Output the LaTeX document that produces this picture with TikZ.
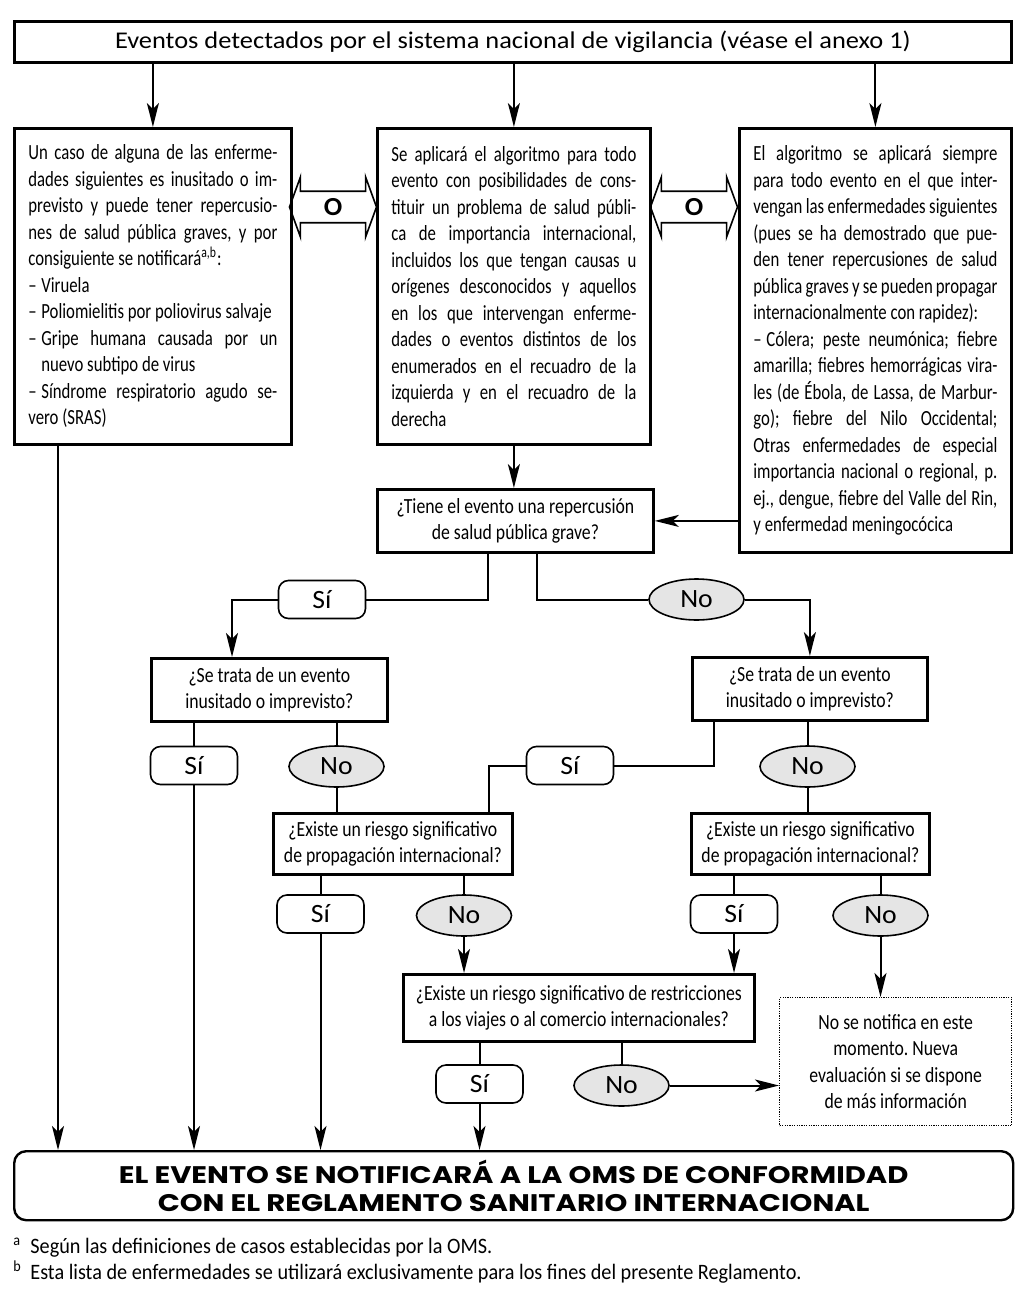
\documentclass[tikz,border=0pt]{standalone}
\usepackage{fontspec}
\setmainfont{Carlito}
\newfontfamily\boxfont[FakeStretch=0.775]{Carlito}
\newfontfamily\condfont[FakeStretch=0.82]{Carlito}
\newfontfamily\titlefont[FakeStretch=1.1]{Carlito}
\newfontfamily\labelfont[FakeStretch=1.05]{Carlito}
\newfontfamily\notefont[FakeStretch=0.92]{Carlito}
\newfontfamily\headfont[FakeStretch=1.21]{Poppins}
\usetikzlibrary{positioning, shapes.arrows, shapes.geometric, arrows.meta}
\setlength{\parindent}{0pt}
\tolerance=10000
\hbadness=10000
\hyphenpenalty=10000
\frenchspacing
\newcommand{\dashitem}{\par\noindent\hangindent=6.5pt\hangafter=1\makebox[6.5pt][l]{–}}
\tikzset{
  titlebox/.style={
    rectangle, draw, line width=1.4pt, anchor=north west, inner sep=0pt,
    minimum width=498.5pt, minimum height=20.5pt,
    font=\titlefont\fontsize{12}{14}\selectfont
  },
  textbox/.style={
    rectangle, draw, line width=1.4pt, anchor=north west, inner ysep=0pt,
    inner xsep=7pt, align=justify,
    font=\boxfont\fontsize{10.8}{13.25}\selectfont
  },
  question/.style={
    rectangle, draw, line width=1.4pt, anchor=north west, inner sep=0pt,
    align=center, font=\condfont\fontsize{10.8}{13.25}\selectfont
  },
  yes/.style={
    rectangle, rounded corners=5pt, draw, line width=0.8pt, fill=white,
    minimum width=43.5pt, minimum height=19pt, inner sep=0pt,
    font=\labelfont\fontsize{13.2}{14}\selectfont
  },
  no/.style={
    ellipse, draw, line width=0.8pt, fill=gray!20,
    minimum width=47.5pt, minimum height=20.5pt, inner sep=0pt,
    font=\labelfont\fontsize{13.2}{14}\selectfont
  },
  orsign/.style={
    double arrow, draw, line width=0.8pt, inner sep=0pt,
    double arrow head extend=4.25pt, double arrow tip angle=140,
    minimum height=43.5pt, minimum width=30pt,
    font=\labelfont\bfseries\fontsize{13}{13}\selectfont
  },
  waitbox/.style={
    rectangle, draw, line width=0.7pt, dash pattern=on 0.6pt off 0.6pt,
    anchor=north west, inner sep=0pt, align=center,
    minimum width=116pt, minimum height=64pt,
    font=\condfont\fontsize{10.8}{13.25}\selectfont
  },
  notify/.style={
    rectangle, rounded corners=6pt, draw, line width=1.2pt, anchor=north west,
    inner sep=0pt, align=center, minimum width=499.5pt, minimum height=34.5pt,
    font=\headfont\bfseries\fontsize{12}{14}\selectfont
  },
  footnote/.style={inner sep=0pt, font=\notefont\fontsize{11}{13}\selectfont},
  link/.style={line width=1pt},
  arrow/.style={line width=1pt, -{Stealth[length=12pt, width=6pt, inset=3pt]}}
}

\begin{document}
\begin{tikzpicture}[x=0.5pt, y=-0.5pt]
\useasboundingbox (0,0) rectangle (1024,1295);

% Title box
\node[titlebox] (title) at (13,20) {Eventos detectados por el sistema nacional de vigilancia (véase el anexo 1)};

% Three entry boxes
\node[textbox, minimum width=138.5pt, minimum height=158pt, text width=124.5pt] (cases) at (13,127) {%
Un caso de alguna de las enferme-\linebreak
dades siguientes es inusitado o im-\linebreak
previsto y puede tener repercusio-\linebreak
nes de salud pública graves, y por\linebreak
consiguiente se notificará\textsuperscript{a,b}:
\dashitem Viruela
\dashitem Poliomielitis por poliovirus salvaje
\dashitem Gripe humana causada por un\linebreak nuevo subtipo de virus
\dashitem Síndrome respiratorio agudo se-\linebreak vero (SRAS)};
\node[textbox, minimum width=136.5pt, minimum height=158pt, text width=122.5pt] (others) at (376,127) {%
Se aplicará el algoritmo para todo\linebreak
evento con posibilidades de cons-\linebreak
tituir un problema de salud públi-\linebreak
ca de importancia internacional,\linebreak
incluidos los que tengan causas u\linebreak
orígenes desconocidos y aquellos\linebreak
en los que intervengan enferme-\linebreak
dades o eventos distintos de los\linebreak
enumerados en el recuadro de la\linebreak
izquierda y en el recuadro de la\linebreak
derecha};
\node[textbox, minimum width=136pt, minimum height=212pt, text width=122pt] (listed) at (738,127) {%
El algoritmo se aplicará siempre\linebreak
para todo evento en el que inter-\linebreak
vengan las enfermedades siguientes\linebreak
(pues se ha demostrado que pue-\linebreak
den tener repercusiones de salud\linebreak
pública graves y se pueden propagar\linebreak
internacionalmente con rapidez):
\dashitem Cólera; peste neumónica; fiebre\linebreak
amarilla; fiebres hemorrágicas vira-\linebreak
les (de Ébola, de Lassa, de Marbur-\linebreak
go); fiebre del Nilo Occidental;\linebreak
Otras enfermedades de especial\linebreak
importancia nacional o regional, p.\linebreak
ej., dengue, fiebre del Valle del Rin,\linebreak
y enfermedad meningocócica};

% "O" signs between the boxes
\node[orsign] (or1) at (333,207) {O};
\node[orsign] (or2) at (694,207) {O};

% Questions
\node[question, minimum width=138pt, minimum height=31.5pt] (grave) at (376,488) {¿Tiene el evento una repercusión\\de salud pública grave?};
\node[question, minimum width=118pt, minimum height=31.5pt] (unusualL) at (150,657) {¿Se trata de un evento\\inusitado o imprevisto?};
\node[question, minimum width=117.5pt, minimum height=31.5pt] (unusualR) at (691,656) {¿Se trata de un evento\\inusitado o imprevisto?};
\node[question, minimum width=119.5pt, minimum height=30.5pt] (spreadL) at (272,812) {¿Existe un riesgo significativo\\de propagación internacional?};
\node[question, minimum width=119pt, minimum height=30.5pt] (spreadR) at (690,812) {¿Existe un riesgo significativo\\de propagación internacional?};
\node[question, minimum width=175.5pt, minimum height=33.5pt] (travel) at (402,973) {¿Existe un riesgo significativo de restricciones\\a los viajes o al comercio internacionales?};

% Answers
\node[yes] (yes1) at (322,599.5) {Sí};
\node[no] (no1) at (696.5,599.5) {No};
\node[yes] (yesL2) at (194,765.5) {Sí};
\node[no] (noL2) at (336.5,766.5) {No};
\node[yes] (yesR2) at (570,765.5) {Sí};
\node[no] (noR2) at (807.5,766.5) {No};
\node[yes] (yesL3) at (320.5,914) {Sí};
\node[no] (noL3) at (464,915.5) {No};
\node[yes] (yesR3) at (734,914) {Sí};
\node[no] (noR3) at (880.5,915.5) {No};
\node[yes] (yes4) at (479.5,1084) {Sí};
\node[no] (no4) at (621.5,1085.5) {No};

% Outcomes
\node[waitbox] (wait) at (779,997) {No se notifica en este\\momento. Nueva\\evaluación si se dispone\\de más información};
\node[notify] (notify) at (13,1150) {EL EVENTO SE NOTIFICARÁ A LA OMS DE CONFORMIDAD\\CON EL REGLAMENTO SANITARIO INTERNACIONAL};

% Footnotes
\node[footnote, anchor=base west] (fna) at (13,1253) {\makebox[8.5pt][l]{\textsuperscript{a}}Según las definiciones de casos establecidas por la OMS.};
\node[footnote, below=13pt of fna.base west, anchor=base west] (fnb) {\makebox[8.5pt][l]{\textsuperscript{b}}Esta lista de enfermedades se utilizará exclusivamente para los fines del presente Reglamento.};

% Arrows from the title
\foreach \b in {cases, others, listed}
  \draw[arrow] (title.south -| \b.north) -- (\b.north);

% Into the first question
\draw[arrow] (others.south) -- (others.south |- grave.north);
\draw[arrow] (listed.west |- grave.east) -- (grave.east);

% Left box straight down
\coordinate (casesOut) at ([xshift=22.5pt]cases.south west);
\draw[arrow] (casesOut) -- (casesOut |- notify.north);

% Answers of the first question
\coordinate (graveYes) at ([xshift=56pt]grave.south west);
\coordinate (graveNo) at ([xshift=80.5pt]grave.south west);
\coordinate (intoL) at ([xshift=41pt]unusualL.north west);
\draw[link] (graveYes) |- (yes1.east);
\draw[arrow] (yes1.west) -| (intoL);
\draw[link] (graveNo) |- (no1.west);
\draw[arrow] (no1.east) -| (unusualR.north);

% Stubs from the questions to their answers
\foreach \q/\a in {unusualL/yesL2, unusualL/noL2, unusualR/noR2, spreadL/yesL3,
                   spreadL/noL3, spreadR/yesR3, spreadR/noR3, travel/yes4, travel/no4}
  \draw[link] (\q.south -| \a) -- (\a.north);

\coordinate (unusualRYes) at ([xshift=11.5pt]unusualR.south west);
\coordinate (intoSpreadL) at ([xshift=108.5pt]spreadL.north west);
\draw[link] (unusualRYes) |- (yesR2.east);
\draw[link] (yesR2.west) -| (intoSpreadL);
\draw[link] (noL2.south) -- (noL2.south |- spreadL.north);
\draw[link] (noR2.south) -- (noR2.south |- spreadR.north);

% Down to the next step
\draw[arrow] (noL3.south) -- (noL3.south |- travel.north);
\draw[arrow] (yesR3.south) -- (yesR3.south |- travel.north);
\draw[arrow] (noR3.south) -- (noR3.south |- wait.north);
\draw[arrow] (no4.east) -- (no4.east -| wait.west);

% Into the notification box
\foreach \a in {yesL2, yesL3, yes4}
  \draw[arrow] (\a.south) -- (\a.south |- notify.north);

\end{tikzpicture}
\end{document}
